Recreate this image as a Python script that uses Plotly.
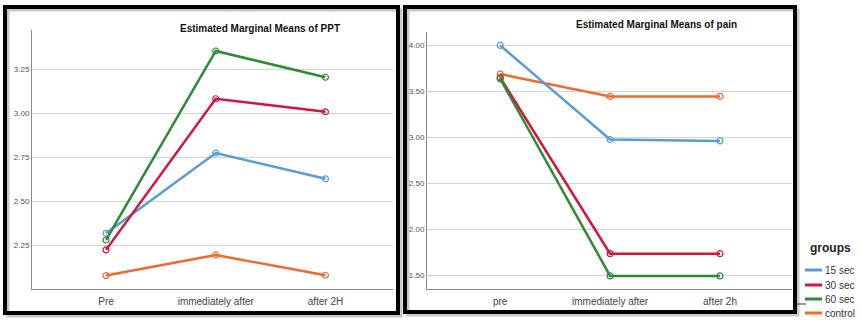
import plotly.graph_objects as go

# ---------------- data ----------------
groups = ["15 sec", "30 sec", "60 sec", "control"]
colors = ["#5b9bd5", "#d4143c", "#2e8b34", "#ee6a30"]

ppt_times = ["Pre", "immediately after", "after 2H"]
ppt_15 = [2.320, 2.775, 2.629]
ppt_30 = [2.226, 3.083, 3.009]
ppt_60 = [2.282, 3.354, 3.205]
ppt_ctrl = [2.080, 2.197, 2.082]

pain_times = ["pre", "immediately after", "after 2h"]
pain_15 = [4.000, 2.978, 2.963]
pain_30 = [3.650, 1.739, 1.739]
pain_60 = [3.637, 1.497, 1.497]
pain_ctrl = [3.688, 3.446, 3.446]

ppt_ticks = [2.25, 2.50, 2.75, 3.00, 3.25]
pain_ticks = [1.50, 2.00, 2.50, 3.00, 3.50, 4.00]

W, H = 862, 324
def px(x): return x / W
def py(y): return 1 - y / H

fig = go.Figure()

ppt_series = [ppt_15, ppt_30, ppt_60, ppt_ctrl]
pain_series = [pain_15, pain_30, pain_60, pain_ctrl]
order = [3, 0, 1, 2]
for i in order:
    fig.add_trace(go.Scatter(
        x=ppt_times, y=ppt_series[i], mode="lines+markers", name=groups[i],
        line=dict(color=colors[i], width=2.5),
        marker=dict(symbol="circle-open", size=6, color=colors[i], line=dict(width=1.2)),
        xaxis="x", yaxis="y", showlegend=False))
for i in order:
    fig.add_trace(go.Scatter(
        x=pain_times, y=pain_series[i], mode="lines+markers", name=groups[i],
        line=dict(color=colors[i], width=2.5),
        marker=dict(symbol="circle-open", size=6, color=colors[i], line=dict(width=1.2)),
        xaxis="x2", yaxis="y2", showlegend=False))

axis_common = dict(showline=True, linecolor="#8a8a8a", linewidth=1, ticks="", zeroline=False)
ytick_font = dict(family="Liberation Sans, Arial", size=8, color="#555")
xtick_font = dict(family="Liberation Sans, Arial", size=10, color="#444")

fig.update_layout(
    width=W, height=H, margin=dict(l=0, r=0, t=0, b=0),
    paper_bgcolor="white", plot_bgcolor="white", showlegend=False,
    xaxis=dict(domain=[px(32), px(393)], type="category", range=[-0.675, 2.616],
               showgrid=False, tickfont=xtick_font, anchor="y", ticklabelstandoff=3,
               **axis_common),
    yaxis=dict(domain=[py(289), py(30)], range=[2.004, 3.473], tickvals=ppt_ticks,
               tickformat=".2f", showgrid=True, gridcolor="#d4d4d4", gridwidth=1,
               tickfont=ytick_font, anchor="x", **axis_common),
    xaxis2=dict(domain=[px(427), px(792)], type="category", range=[-0.666, 2.655],
                showgrid=False, tickfont=xtick_font, anchor="y2", ticklabelstandoff=3,
                **axis_common),
    yaxis2=dict(domain=[py(289), py(32)], range=[1.355, 4.145], tickvals=pain_ticks,
                tickformat=".2f", showgrid=True, gridcolor="#d4d4d4", gridwidth=1,
                tickfont=ytick_font, anchor="x2", **axis_common),
)

shapes = []
# panel shadows and borders
for (x0, x1, y0, y1) in [(5, 398, 7, 313), (405, 795, 7, 312)]:
    shapes.append(dict(type="rect", xref="paper", yref="paper",
                       x0=px(x0 + 3), x1=px(x1 + 3), y0=py(y1 + 3), y1=py(y0 + 3),
                       line=dict(color="#c8c8c8", width=3), layer="below"))
    shapes.append(dict(type="rect", xref="paper", yref="paper",
                       x0=px(x0), x1=px(x1), y0=py(y1), y1=py(y0),
                       line=dict(color="black", width=4), layer="above"))
# small connector line
shapes.append(dict(type="line", xref="paper", yref="paper",
                   x0=px(796), x1=px(806), y0=py(304), y1=py(304),
                   line=dict(color="#333", width=1)))

annotations = [
    dict(text="<b>Estimated Marginal Means of PPT</b>", xref="paper", yref="paper",
         x=px(260), y=py(29), showarrow=False, xanchor="center", yanchor="middle",
         font=dict(family="Liberation Sans, Arial", size=10, color="#111")),
    dict(text="<b>Estimated Marginal Means of pain</b>", xref="paper", yref="paper",
         x=px(656), y=py(24), showarrow=False, xanchor="center", yanchor="middle",
         font=dict(family="Liberation Sans, Arial", size=10, color="#111")),
    dict(text="<b>groups</b>", xref="paper", yref="paper",
         x=px(830), y=py(248), showarrow=False, xanchor="center", yanchor="middle",
         font=dict(family="Liberation Sans, Arial", size=12, color="#222")),
]
# legend built from groups/colors
leg_y = [270, 285, 299, 313]
for g, c, yy in zip(groups, colors, leg_y):
    shapes.append(dict(type="line", xref="paper", yref="paper",
                       x0=px(805), x1=px(822), y0=py(yy), y1=py(yy),
                       line=dict(color=c, width=3)))
    annotations.append(dict(text=g, xref="paper", yref="paper", x=px(823), y=py(yy),
                            showarrow=False, xanchor="left", yanchor="middle",
                            font=dict(family="Liberation Sans, Arial", size=10, color="#333")))

fig.update_layout(shapes=shapes, annotations=annotations)
fig.write_html("out.html")
